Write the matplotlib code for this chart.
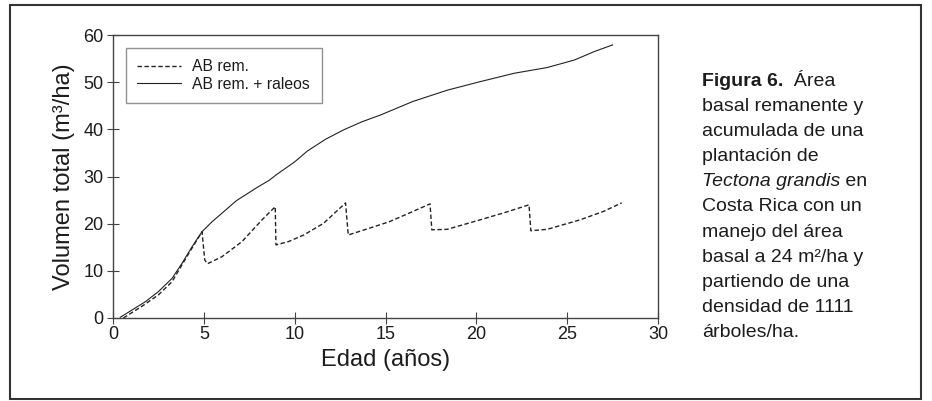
import matplotlib
matplotlib.use('Agg')
import matplotlib.pyplot as plt
from matplotlib.patches import Rectangle

# volumen acumulado (remanente + raleos)
edad_total = [0.4, 1.05, 1.8, 2.5, 3.25, 3.8, 4.35, 4.9, 5.45, 6.2, 6.8,
              7.9, 8.6, 9.0, 10.0, 10.7, 11.7, 12.7, 13.7, 14.7, 16.5,
              18.4, 20.2, 22.1, 23.9, 25.4, 26.5, 27.5]
vol_total = [0.15, 1.7, 3.5, 5.6, 8.4, 11.6, 15.1, 18.3, 20.4, 22.9, 24.9,
             27.6, 29.2, 30.4, 33.1, 35.4, 37.9, 39.9, 41.6, 43.0, 45.9,
             48.3, 50.1, 51.9, 53.1, 54.7, 56.5, 57.9]

# volumen remanente (con raleos)
edad_rem = [0.57, 1.6, 2.5, 3.25, 4.17, 4.9, 5.05, 5.2, 6.0, 7.1, 8.2, 8.93,
            8.97, 9.66, 10.5, 11.6, 12.8, 12.95, 14.0, 15.2, 16.4, 17.45,
            17.55, 18.4, 20.2, 21.6, 22.9, 23.0, 23.9, 25.7, 27.0, 28.0]
vol_rem = [0.0, 2.5, 4.9, 7.7, 13.7, 18.3, 12.3, 11.5, 13.0, 16.2, 20.8, 23.6,
           15.5, 16.2, 17.6, 20.1, 24.4, 17.6, 18.9, 20.4, 22.4, 24.2,
           18.7, 18.8, 20.8, 22.4, 24.0, 18.5, 18.8, 20.8, 22.6, 24.4]

x_ticks = [0, 5, 10, 15, 20, 25, 30]
y_ticks = [0, 10, 20, 30, 40, 50, 60]

caption = [
    [("Figura 6.", "bold", "normal"), ("  Área", "normal", "normal")],
    [("basal remanente y", "normal", "normal")],
    [("acumulada de una", "normal", "normal")],
    [("plantación de", "normal", "normal")],
    [("Tectona grandis", "normal", "italic"), (" en", "normal", "normal")],
    [("Costa Rica con un", "normal", "normal")],
    [("manejo del área", "normal", "normal")],
    [("basal a 24 m²/ha y", "normal", "normal")],
    [("partiendo de una", "normal", "normal")],
    [("densidad de 1111", "normal", "normal")],
    [("árboles/ha.", "normal", "normal")],
]

plt.rcParams['font.family'] = ['Liberation Sans', 'DejaVu Sans']
text_color = '#1c1c1c'
line_color = '#222222'
frame_color = '#444444'

W, H = 932, 401
fig = plt.figure(figsize=(W / 100, H / 100), dpi=100)
ax = fig.add_axes([113 / W, 1 - 318 / H, 545 / W, 283 / H])

ax.plot(edad_rem, vol_rem, color=line_color, lw=1.0,
        linestyle=(0, (3.2, 1.8)), label='AB rem.')
ax.plot(edad_total, vol_total, color=line_color, lw=0.8,
        label='AB rem. + raleos')

ax.set_xlim(0, 30)
ax.set_ylim(0, 60)
ax.set_xticks(x_ticks)
ax.set_yticks(y_ticks)

for s in ax.spines.values():
    s.set_color(frame_color)
    s.set_linewidth(1.0)

ax.tick_params(direction='inout', length=8, width=0.8, color=frame_color,
               labelsize=13, labelcolor=text_color)
ax.tick_params(axis='x', pad=2)
ax.tick_params(axis='y', pad=3)

ax.set_xlabel('Edad (años)', fontsize=17, color=text_color, labelpad=4)
ax.set_ylabel('Volumen total (m³/ha)', fontsize=17, color=text_color, labelpad=6)

leg = ax.legend(loc='upper left', fontsize=11.3, frameon=True, fancybox=False,
                handlelength=2.8, handletextpad=0.7, labelspacing=0.15,
                borderpad=0.75, borderaxespad=0.8)
leg.get_frame().set_edgecolor('#777777')
leg.get_frame().set_linewidth(1.0)
for t in leg.get_texts():
    t.set_color(text_color)

# caption on the right, one line at a time
x0 = 702 / W
for i, parts in enumerate(caption):
    y = 1 - (86 + 25.1 * i) / H
    prev = fig.text(x0, y, parts[0][0], fontsize=14, weight=parts[0][1],
                    style=parts[0][2], color=text_color, va='baseline')
    for txt, wt, st in parts[1:]:
        prev = ax.annotate(txt, xy=(1, 0), xycoords=prev, fontsize=14,
                           weight=wt, style=st, color=text_color,
                           va='bottom', ha='left', annotation_clip=False)

fig.add_artist(Rectangle((10 / W, 2 / H), 911 / W, 394 / H,
                         transform=fig.transFigure, fill=False,
                         lw=1.5, ec='#333333'))

plt.savefig('out.png', dpi=100)
plt.close()
